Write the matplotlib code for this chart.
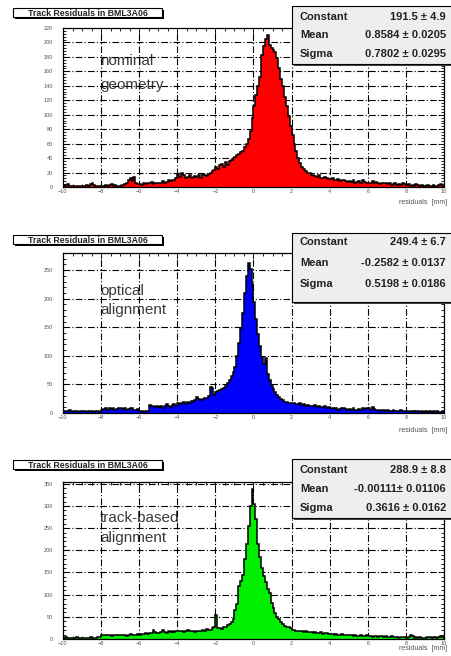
import numpy as np
import matplotlib
matplotlib.use("Agg")
import matplotlib.pyplot as plt
from matplotlib.patches import Rectangle
from matplotlib.ticker import MultipleLocator

plt.rcParams['font.family'] = ['Liberation Sans', 'DejaVu Sans']

W, H = 452, 656

# residual histograms, 200 bins of 0.1 mm from -10 to 10
edges = np.linspace(-10, 10, 201)

nominal = [
    3, 2, 4, 2, 1, 2, 1, 2, 1, 2,
    1, 2, 3, 2, 4, 5, 3, 2, 1, 2,
    2, 1, 3, 2, 3, 4, 2, 3, 1, 2,
    2, 3, 4, 6, 9, 12, 8, 14, 6, 4,
    4, 3, 5, 4, 6, 5, 7, 4, 6, 5,
    6, 5, 8, 6, 7, 9, 8, 10, 9, 12,
    18, 14, 20, 16, 12, 14, 16, 12, 14, 15,
    14, 16, 13, 18, 16, 15, 18, 20, 22, 24,
    28, 25, 30, 32, 28, 34, 30, 36, 38, 40,
    42, 44, 46, 48, 50, 55, 60, 67, 78, 95,
    112, 127, 140, 152, 182, 195, 205, 210, 196, 192,
    190, 187, 178, 164, 150, 140, 125, 112, 98, 85,
    72, 60, 50, 40, 33, 28, 25, 22, 20, 19,
    17, 16, 15, 14, 16, 13, 12, 14, 12, 11,
    11, 12, 10, 9, 11, 8, 10, 9, 8, 7,
    8, 7, 9, 6, 7, 8, 6, 9, 7, 6,
    5, 6, 8, 5, 7, 6, 4, 5, 6, 5,
    4, 5, 3, 4, 5, 3, 4, 3, 5, 4,
    3, 4, 2, 3, 2, 4, 3, 2, 3, 2,
    2, 3, 2, 1, 3, 2, 2, 3, 4, 2]

optical = [
    3, 4, 3, 5, 2, 3, 4, 3, 2, 3,
    4, 3, 2, 4, 3, 3, 2, 4, 3, 2,
    6, 7, 8, 6, 9, 7, 8, 6, 7, 8,
    9, 7, 8, 6, 7, 9, 8, 6, 5, 7,
    4, 3, 2, 3, 4, 14, 12, 13, 11, 12,
    10, 12, 9, 13, 15, 12, 11, 14, 16, 13,
    18, 15, 17, 20, 16, 19, 18, 21, 19, 22,
    28, 24, 22, 25, 27, 26, 30, 45, 44, 32,
    36, 38, 40, 42, 44, 48, 52, 58, 64, 72,
    80, 100, 122, 148, 175, 210, 240, 262, 252, 225,
    195, 165, 138, 118, 98, 85, 96, 68, 58, 48,
    42, 36, 32, 28, 25, 22, 20, 19, 18, 17,
    18, 17, 16, 15, 17, 14, 15, 13, 14, 12,
    13, 12, 14, 11, 12, 10, 11, 12, 9, 10,
    8, 9, 7, 8, 6, 7, 8, 9, 7, 6,
    7, 6, 8, 5, 6, 7, 6, 8, 7, 9,
    8, 6, 10, 7, 5, 6, 4, 5, 6, 4,
    5, 4, 3, 5, 4, 3, 4, 5, 3, 4,
    3, 2, 4, 3, 2, 3, 4, 2, 3, 2,
    3, 2, 3, 2, 4, 2, 3, 2, 2, 3]

trackbased = [
    3, 4, 2, 3, 2, 3, 2, 4, 3, 2,
    3, 2, 3, 2, 4, 3, 2, 3, 4, 5,
    8, 9, 10, 8, 9, 7, 8, 9, 10, 8,
    9, 8, 10, 7, 9, 11, 8, 10, 9, 12,
    10, 12, 11, 13, 12, 14, 13, 20, 15, 13,
    14, 16, 20, 15, 13, 17, 16, 18, 15, 17,
    18, 17, 19, 16, 18, 20, 17, 19, 18, 16,
    17, 19, 18, 20, 19, 22, 21, 20, 24, 26,
    55, 24, 25, 23, 26, 28, 31, 34, 38, 46,
    66, 80, 120, 130, 145, 180, 215, 255, 300, 339,
    305, 270, 215, 185, 160, 142, 128, 113, 104, 82,
    70, 58, 50, 44, 38, 34, 30, 28, 26, 24,
    21, 20, 19, 18, 17, 18, 16, 17, 15, 16,
    15, 14, 16, 13, 14, 15, 12, 13, 14, 12,
    11, 12, 10, 11, 9, 10, 11, 8, 9, 10,
    8, 9, 7, 8, 6, 7, 8, 6, 7, 8,
    7, 6, 5, 7, 6, 5, 6, 7, 5, 6,
    5, 4, 6, 5, 4, 5, 3, 4, 5, 4,
    3, 4, 8, 6, 3, 4, 3, 5, 3, 2,
    3, 4, 5, 3, 4, 5, 3, 4, 6, 5]

labels = [["nominal", "geometry"], ["optical", "alignment"], ["track-based", "alignment"]]
fit_const = ["191.5 \u00b1 4.9", "249.4 \u00b1 6.7", "288.9 \u00b1 8.8"]
fit_mean = ["0.8584 \u00b1 0.0205", "-0.2582 \u00b1 0.0137", "-0.00111\u00b1 0.01106"]
fit_sigma = ["0.7802 \u00b1 0.0295", "0.5198 \u00b1 0.0186", "0.3616 \u00b1 0.0162"]
title = "Track Residuals in BML3A06"

series = [nominal, optical, trackbased]
colors = ["#ff0000", "#0000ff", "#00ee00"]
ymax = [220, 280, 354]
ystep = [20, 50, 50]

# layout in pixels: (top, bottom) of each frame, title box, stats box
frames = [(28, 187), (253, 413), (482, 639)]
title_y = [8, 235, 460]
stats_y = [(6, 64), (233, 302), (459, 518)]
stats_rows = [[17, 35, 54], [242, 263, 284], [470, 489, 508]]
xlabel_y = [202, 430, 649]
label_y = [[0.79, 0.64], [0.76, 0.645], [0.77, 0.643]]

fig = plt.figure(figsize=(W / 100, H / 100), dpi=100)
gridstyle = (0, (6, 2, 1, 2))

for i in range(3):
    top, bot = frames[i]
    ax = fig.add_axes([63 / W, 1 - bot / H, (444 - 63) / W, (bot - top) / H])
    ax.stairs(series[i], edges, fill=True, color=colors[i], zorder=2)
    ax.stairs(series[i], edges, color="black", lw=1.1, zorder=2.2)
    for xv in range(-8, 10, 2):
        ax.axvline(xv, color="black", lw=0.8, ls=gridstyle, zorder=1)
    for yv in range(ystep[i], ymax[i], ystep[i]):
        ax.axhline(yv, color="black", lw=0.8, ls=gridstyle, zorder=1)
    ax.set_xlim(-10, 10)
    ax.set_ylim(0, ymax[i])
    ax.xaxis.set_major_locator(MultipleLocator(2))
    ax.xaxis.set_minor_locator(MultipleLocator(0.5))
    ax.yaxis.set_major_locator(MultipleLocator(ystep[i]))
    ax.yaxis.set_minor_locator(MultipleLocator(ystep[i] / 5))
    ax.tick_params(which="both", direction="in", top=True, right=True,
                   labelsize=4, labelcolor="#555555", width=0.6)
    ax.tick_params(which="major", length=4)
    ax.tick_params(which="minor", length=2)
    ax.tick_params(axis="y", pad=7)
    ax.tick_params(axis="x", pad=1.5)
    for s in ax.spines.values():
        s.set_linewidth(0.9)
    ax.text(0.097, label_y[i][0], labels[i][0], transform=ax.transAxes,
            fontsize=11, color="#3a3a3a", va="center", zorder=0.5)
    ax.text(0.097, label_y[i][1], labels[i][1], transform=ax.transAxes,
            fontsize=11, color="#3a3a3a", va="center", zorder=0.5)

# overlay in pixel coordinates for the ROOT-style boxes
ov = fig.add_axes([0, 0, 1, 1], zorder=10)
ov.set_xlim(0, W)
ov.set_ylim(H, 0)
ov.axis("off")

for i in range(3):
    ty = title_y[i]
    ov.add_patch(Rectangle((15, ty + 2), 149, 9, fc="black", ec="none"))
    ov.add_patch(Rectangle((13, ty), 149, 9, fc="white", ec="black", lw=0.8))
    ov.text(88, ty + 4.8, title, fontsize=6.3, fontweight="bold",
            ha="center", va="center_baseline", color="#222222")

    s0, s1 = stats_y[i]
    ov.add_patch(Rectangle((294, s0 + 2), 160, s1 - s0, fc="#444444", ec="none"))
    ov.add_patch(Rectangle((292, s0), 160, s1 - s0, fc="#eeeeee", ec="black", lw=0.8))
    names = ["Constant", "Mean", "Sigma"]
    vals = [fit_const[i], fit_mean[i], fit_sigma[i]]
    for r, n, v in zip(stats_rows[i], names, vals):
        ov.text(300, r, n, fontsize=8, fontweight="bold", ha="left",
                va="center", color="#222222")
        ov.text(446, r, v, fontsize=8, fontweight="bold", ha="right",
                va="center", color="#222222")

    ov.text(447, xlabel_y[i], "residuals  [mm]", fontsize=5,
            ha="right", va="center", color="#555555")

fig.savefig("out.png", dpi=100, facecolor="white")
